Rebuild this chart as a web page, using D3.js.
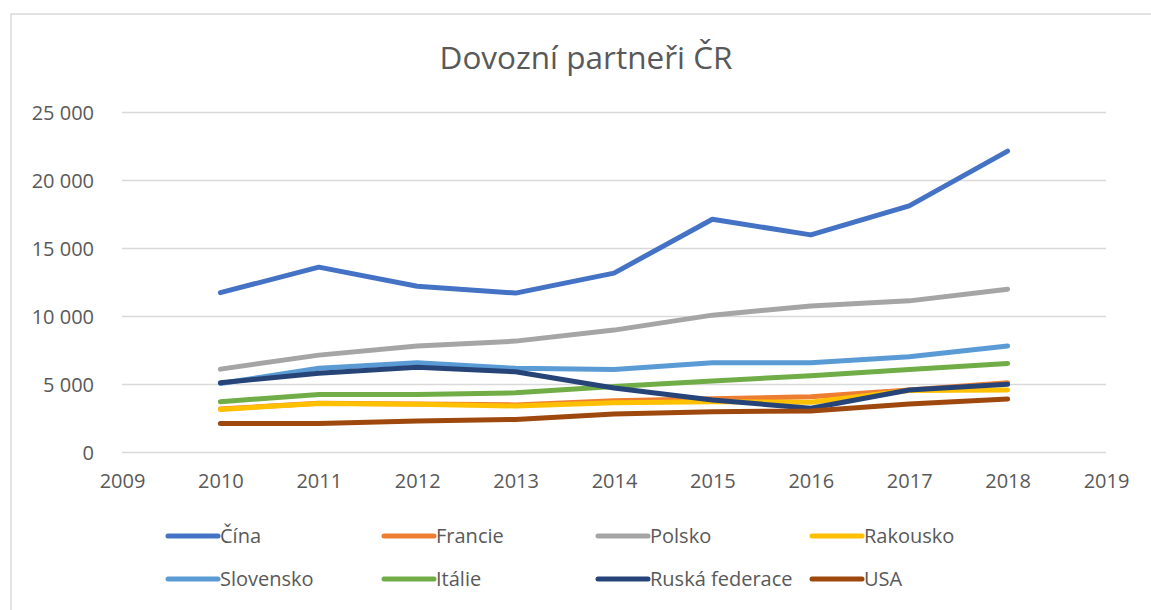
<!DOCTYPE html>
<html>
<head>
<meta charset="utf-8">
<script src="https://cdn.jsdelivr.net/npm/d3@7"></script>
<style>
  body { margin: 0; background: #fff; }
  svg { display: block; }
  text { font-family: "Open Sans", sans-serif; fill: #595959; }
</style>
</head>
<body>
<svg id="chart" width="1151" height="610"></svg>
<script>
const years = [2010, 2011, 2012, 2013, 2014, 2015, 2016, 2017, 2018];
const seriesNames = ["Čína", "Francie", "Polsko", "Rakousko", "Slovensko", "Itálie", "Ruská federace", "USA"];
const cina      = [11750, 13630, 12230, 11720, 13190, 17150, 16000, 18130, 22160];
const francie   = [3200, 3620, 3560, 3500, 3800, 3950, 4100, 4600, 5130];
const polsko    = [6130, 7160, 7830, 8190, 9000, 10100, 10770, 11150, 12010];
const rakousko  = [3170, 3610, 3540, 3420, 3660, 3730, 3700, 4560, 4600];
const slovensko = [5080, 6190, 6600, 6190, 6110, 6600, 6600, 7040, 7830];
const italie    = [3730, 4270, 4270, 4390, 4850, 5250, 5650, 6110, 6550];
const ruska     = [5130, 5820, 6260, 5940, 4740, 3860, 3250, 4590, 5010];
const usa       = [2140, 2140, 2310, 2430, 2830, 3000, 3050, 3560, 3930];
const seriesValues = [cina, francie, polsko, rakousko, slovensko, italie, ruska, usa];
const colors = ["#4472C4", "#ED7D31", "#A5A5A5", "#FFC000", "#5B9BD5", "#70AD47", "#264478", "#9E480E"];
const xTicks = [2009, 2010, 2011, 2012, 2013, 2014, 2015, 2016, 2017, 2018, 2019];
const yTicks = [0, 5000, 10000, 15000, 20000, 25000];
const title = "Dovozní partneři ČR";

const svg = d3.select("#chart");

// chart border (cropped on right/bottom)
svg.append("path").attr("d", "M11,620 V14 H1160")
  .attr("fill", "none").attr("stroke", "#D9D9D9").attr("stroke-width", 1.5);

const x = d3.scaleLinear().domain([2009, 2019]).range([122, 1106]);
const y = d3.scaleLinear().domain([0, 25000]).range([452.5, 112.5]);

const fmt = v => d3.format(",")(v).replace(/,/g, "\u00a0");

// gridlines
svg.append("g").selectAll("line").data(yTicks).join("line")
  .attr("x1", x(2009)).attr("x2", x(2019))
  .attr("y1", d => y(d)).attr("y2", d => y(d))
  .attr("stroke", "#D9D9D9").attr("stroke-width", 1.5);

// y axis labels
const yAxis = d3.axisLeft(y).tickValues(yTicks).tickFormat(fmt).tickSize(0).tickPadding(0);
const gy = svg.append("g").attr("transform", "translate(94,0)").call(yAxis);
gy.select(".domain").remove();
gy.selectAll("text").style("font-size", "20px").attr("font-family", null).style("fill", "#595959").attr("dy", "0.34em");

// x axis labels
const xAxis = d3.axisBottom(x).tickValues(xTicks).tickFormat(d3.format("d")).tickSize(0).tickPadding(0);
const gx = svg.append("g").attr("transform", "translate(0,474)").call(xAxis);
gx.select(".domain").remove();
gx.selectAll("text").style("font-size", "20px").attr("font-family", null).style("fill", "#595959").attr("dy", "0.72em");

// lines
const line = d3.line().x((d, i) => x(years[i])).y(d => y(d));
svg.append("g").selectAll("path").data(seriesValues).join("path")
  .attr("d", d => line(d))
  .attr("fill", "none")
  .attr("stroke", (d, i) => colors[i])
  .attr("stroke-width", 5)
  .attr("stroke-linejoin", "round")
  .attr("stroke-linecap", "round");

// title
svg.append("text").attr("x", 586).attr("y", 69).attr("text-anchor", "middle")
  .style("font-size", "31.5px").text(title);

// legend
const colX = [222, 438, 652, 866];
const rowY = [536, 579];
const leg = svg.append("g").selectAll("g").data(seriesNames).join("g")
  .attr("transform", (d, i) => `translate(${colX[i % 4]},${rowY[Math.floor(i / 4)]})`);
leg.append("line").attr("x1", -54).attr("x2", -4).attr("y1", 0).attr("y2", 0)
  .attr("stroke", (d, i) => colors[i]).attr("stroke-width", 5).attr("stroke-linecap", "round");
leg.append("text").attr("x", -2).attr("dy", "0.35em").style("font-size", "20px").text(d => d);
</script>
</body>
</html>
